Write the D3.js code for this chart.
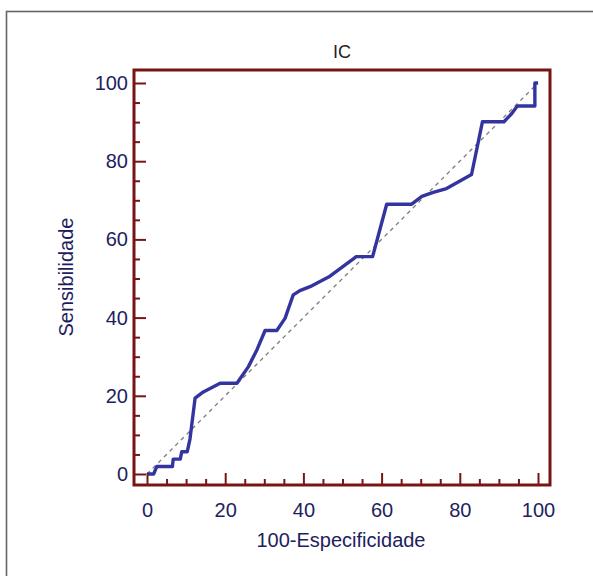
<!DOCTYPE html>
<html>
<head>
<meta charset="utf-8">
<script src="https://cdn.jsdelivr.net/npm/d3@7"></script>
<style>
  body { margin: 0; background: #fff; }
  svg { display: block; font-family: "Liberation Sans", Arial, sans-serif; }
  .axis text { fill: #1e1e5e; font-size: 20px; }
  .axis line { stroke: #7a1414; stroke-width: 2px; }
  .axis path { display: none; }
</style>
</head>
<body>
<svg id="chart" width="593" height="576"></svg>
<script>
// ROC curve points (100-Especificidade, Sensibilidade)
var fpr = [0, 1.7, 2.5, 6.5, 6.7, 8.5, 8.9, 10.3, 11, 12.3, 14.4, 18.7, 23, 25.9, 28, 30.2, 33.2,
           35.3, 37.4, 39.1, 41.7, 46.8, 52.5, 53.5, 57.7, 61.3, 67.7, 70.3, 73.2, 76.6, 80.5, 83,
           85.8, 91.3, 93.3, 94.7, 99.2, 99.2, 100];
var tpr = [0, 0, 1.9, 1.9, 3.8, 3.8, 5.7, 5.7, 9, 19.4, 21, 23.2, 23.2, 27.4, 31.5, 36.7, 36.7,
           39.8, 45.8, 46.9, 47.9, 50.6, 54.8, 55.6, 55.6, 69, 69, 71, 72, 73, 75.2, 76.6,
           90.1, 90.1, 92.2, 94.1, 94.1, 100, 100];
var majorTicks = [0, 20, 40, 60, 80, 100];
var minorTicks = d3.range(0, 101, 5).filter(function(d) { return d % 20 !== 0; });

var svg = d3.select("#chart");

// outer gray frame (only top/left visible)
svg.append("rect")
    .attr("x", 6.5).attr("y", 11.5)
    .attr("width", 620).attr("height", 620)
    .attr("fill", "none")
    .attr("stroke", "#666")
    .attr("stroke-width", 1.6);

var frame = {left: 134, right: 550, top: 70, bottom: 485};

var x = d3.scaleLinear().domain([0, 100]).range([147, 538]);
var y = d3.scaleLinear().domain([0, 100]).range([474, 83]);

// diagonal reference
svg.append("line")
    .attr("x1", x(0)).attr("y1", y(0))
    .attr("x2", x(100)).attr("y2", y(100))
    .attr("stroke", "#7a7a7a")
    .attr("stroke-width", 1.3)
    .attr("stroke-dasharray", "4,4");

// ROC curve
var pts = fpr.map(function(d, i) { return [d, tpr[i]]; });
var line = d3.line()
    .x(function(d) { return x(d[0]); })
    .y(function(d) { return y(d[1]); });

svg.append("path")
    .datum(pts)
    .attr("d", line)
    .attr("fill", "none")
    .attr("stroke", "#3434a0")
    .attr("stroke-width", 3.4)
    .attr("stroke-linejoin", "round");

// axes (ticks pointing inward)
svg.append("g")
    .attr("class", "axis")
    .attr("transform", "translate(" + frame.left + ",0)")
    .call(d3.axisLeft(y).tickValues(majorTicks).tickSizeInner(-12).tickSizeOuter(0).tickPadding(6));

svg.append("g")
    .attr("class", "axis")
    .attr("transform", "translate(" + frame.left + ",0)")
    .call(d3.axisLeft(y).tickValues(minorTicks).tickSizeInner(-6).tickSizeOuter(0).tickFormat(""));

svg.append("g")
    .attr("class", "axis")
    .attr("transform", "translate(0," + frame.bottom + ")")
    .call(d3.axisBottom(x).tickValues(majorTicks).tickSizeInner(-12).tickSizeOuter(0).tickPadding(18));

svg.append("g")
    .attr("class", "axis")
    .attr("transform", "translate(0," + frame.bottom + ")")
    .call(d3.axisBottom(x).tickValues(minorTicks).tickSizeInner(-6).tickSizeOuter(0).tickFormat(""));

// plot frame
svg.append("rect")
    .attr("x", frame.left).attr("y", frame.top)
    .attr("width", frame.right - frame.left)
    .attr("height", frame.bottom - frame.top)
    .attr("fill", "none")
    .attr("stroke", "#7a1414")
    .attr("stroke-width", 3);

// titles
svg.append("text")
    .attr("x", (frame.left + frame.right) / 2)
    .attr("y", 58)
    .attr("text-anchor", "middle")
    .attr("fill", "#222")
    .style("font-size", "18px")
    .text("IC");

svg.append("text")
    .attr("x", 341)
    .attr("y", 547)
    .attr("text-anchor", "middle")
    .attr("fill", "#1e1e5e")
    .style("font-size", "20px")
    .text("100-Especificidade");

svg.append("text")
    .attr("transform", "translate(73,277) rotate(-90)")
    .attr("text-anchor", "middle")
    .attr("fill", "#1e1e5e")
    .style("font-size", "20px")
    .text("Sensibilidade");
</script>
</body>
</html>
